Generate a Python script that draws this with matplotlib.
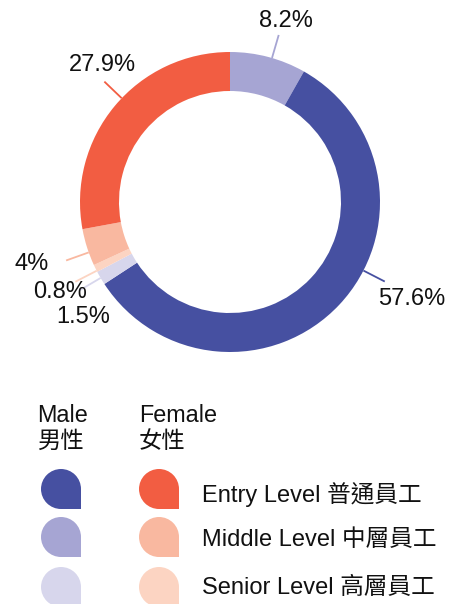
import numpy as np
import matplotlib
matplotlib.use("Agg")
import matplotlib.pyplot as plt
from matplotlib.patches import Circle, Rectangle

plt.rcParams['font.family'] = ['Liberation Sans', 'Noto Sans CJK TC', 'DejaVu Sans']

# ---- data (clockwise from 12 o'clock) ----
segments = ["Male Middle", "Male Entry", "Male Senior", "Female Senior", "Female Middle", "Female Entry"]
values = [8.2, 57.6, 1.5, 0.8, 4.0, 27.9]
value_labels = ["8.2%", "57.6%", "1.5%", "0.8%", "4%", "27.9%"]
colors = ["#a6a5d3", "#4650a1", "#d7d6ec", "#fcd4c2", "#f9b8a0", "#f25d42"]

legend_groups = ["Male\n男性", "Female\n女性"]
legend_levels = ["Entry Level 普通員工", "Middle Level 中層員工", "Senior Level 高層員工"]
male_colors = ["#4650a1", "#a6a5d3", "#d7d6ec"]
female_colors = ["#f25d42", "#f9b8a0", "#fcd4c2"]

# ---- layout (pixel coordinates, y up) ----
W, H = 453, 604
cx, cy, R, ring = 230, 402, 150, 39
angle_shift = [1.5, -16, 0, -1, -2, 4]
label_pos = [(286, 583), (412, 305), (83, 287), (60, 312), (32, 340), (102, 539)]

fig = plt.figure(figsize=(W / 100, H / 100), dpi=100)
ax = fig.add_axes([0, 0, 1, 1])
ax.pie(values, colors=colors, startangle=90, counterclock=False,
       radius=R, center=(cx, cy), wedgeprops=dict(width=ring, edgecolor='none'))
ax.set_xlim(0, W)
ax.set_ylim(0, H)
ax.set_aspect('equal')
ax.axis('off')

cum = np.cumsum([0] + values[:-1])
total = sum(values)
for i, v in enumerate(values):
    mid = (cum[i] + v / 2) / total * 360 + angle_shift[i]
    t = np.deg2rad(mid)
    r0, r1 = R, 174
    ax.plot([cx + r0 * np.sin(t), cx + r1 * np.sin(t)],
            [cy + r0 * np.cos(t), cy + r1 * np.cos(t)],
            color=colors[i], lw=1.3, solid_capstyle='butt')
    ax.text(label_pos[i][0], label_pos[i][1], value_labels[i], fontsize=17,
            ha='center', va='center', color='#111111')

# ---- legend ----
group_x = [37, 139]
for gx, g in zip(group_x, legend_groups):
    ax.text(gx, H - 404, g, fontsize=16.8, ha='left', va='top', linespacing=1.15, color='#111111')

row_y = [H - 489, H - 537, H - 587]
mr = 20
for col, (mx, cols) in enumerate([(61, male_colors), (159, female_colors)]):
    for ry, c in zip(row_y, cols):
        ax.add_patch(Circle((mx, ry), mr, facecolor=c, edgecolor='none'))
        ax.add_patch(Rectangle((mx, ry - mr), mr, mr, facecolor=c, edgecolor='none'))

text_y = [H - 495, H - 540, H - 588]
for ty, lab in zip(text_y, legend_levels):
    ax.text(202, ty, lab, fontsize=17, ha='left', va='center', color='#111111')

fig.savefig("out.png", dpi=100)
